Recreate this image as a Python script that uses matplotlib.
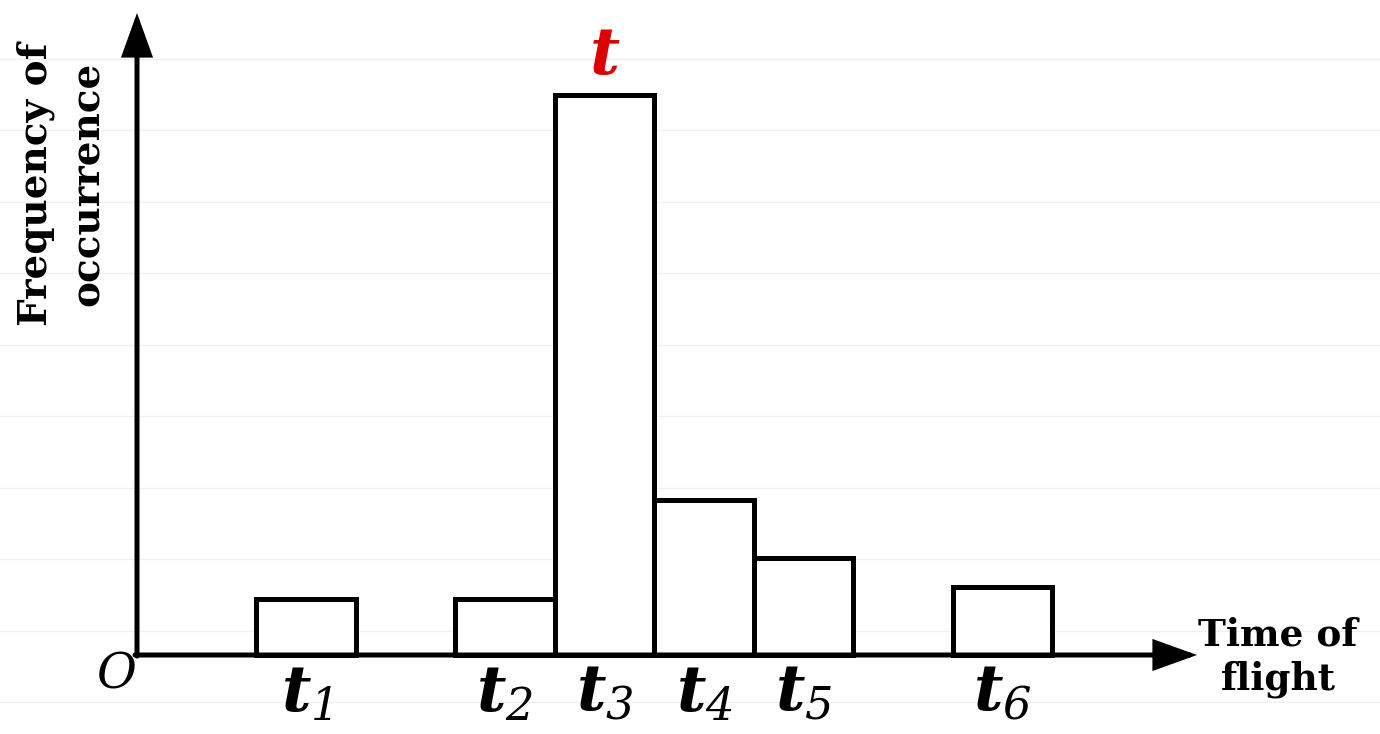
import matplotlib
matplotlib.use("Agg")
import matplotlib.pyplot as plt
from matplotlib.lines import Line2D
import numpy as np

# ---- data ----
bar_left = [1.2, 3.2, 4.2, 5.2, 6.2, 8.2]
bar_height = [1.0, 1.0, 10.0, 2.77, 1.73, 1.21]
bar_labels = ["1", "2", "3", "4", "5", "6"]
x_axis_label = "Time of\nflight"
y_axis_label = "Frequency of\noccurrence"
peak_label = "t"

plt.rcParams['mathtext.fontset'] = 'custom'
plt.rcParams['mathtext.it'] = 'DejaVu Serif:italic:bold'
plt.rcParams['mathtext.rm'] = 'DejaVu Serif:italic'
plt.rcParams['mathtext.bf'] = 'DejaVu Serif:bold'

W, H = 1380, 734
fig = plt.figure(figsize=(W / 100, H / 100), dpi=100)

# faint background grid lines across the whole figure
for yf in 0.0436 + 0.0974 * np.arange(10):
    fig.add_artist(Line2D([0, 1], [yf, yf], transform=fig.transFigure,
                          color="#f0f0f0", lw=1.0, zorder=0))

ax = fig.add_axes([0, 0, 1, 1])
ax.set_xlim(-137 / 99.5, (W - 137) / 99.5)
ax.set_ylim(-(H - 655) / 56, 655 / 56)
ax.axis("off")
ax.patch.set_alpha(0)

lw = 3.6
ax.bar(bar_left, bar_height, width=1.0, align="edge", facecolor="white",
       edgecolor="black", linewidth=lw, zorder=2)

x_tip = (1197 - 137) / 99.5
y_tip = (655 - 13) / 56
arrow = dict(arrowstyle="-|>,head_length=25,head_width=9", mutation_scale=1,
             lw=lw, color="black", shrinkA=0, shrinkB=0, joinstyle="miter")
ax.annotate("", xy=(x_tip, 0), xytext=(-0.02, 0), arrowprops=arrow, zorder=3)
ax.annotate("", xy=(0, y_tip), xytext=(0, -0.02), arrowprops=arrow, zorder=3)

# tick-style labels under bars
for left, lab in zip(bar_left, bar_labels):
    ax.text(left + 0.5, -0.68, r"$t_{%s}$" % lab, ha="center", va="center",
            fontsize=46, color="black")

# peak label
i_peak = int(np.argmax(bar_height))
ax.text(bar_left[i_peak] + 0.5, bar_height[i_peak] + 0.70, r"$%s$" % peak_label,
        ha="center", va="center", fontsize=47, color="#dd0000")

# origin
ax.text(-0.21, -0.36, "O", ha="center", va="center", fontsize=35,
        family="DejaVu Serif", style="italic", color="black")

fig.text(1278 / W, 1 - 657 / H, x_axis_label, ha="center", va="center",
         fontsize=27, family="DejaVu Serif", weight="bold", linespacing=1.25)
fig.text(62 / W, 1 - 184 / H, y_axis_label, ha="center", va="center",
         rotation=90, fontsize=28, family="DejaVu Serif", weight="bold",
         linespacing=1.45)

fig.savefig("out.png", dpi=100, facecolor="white")
